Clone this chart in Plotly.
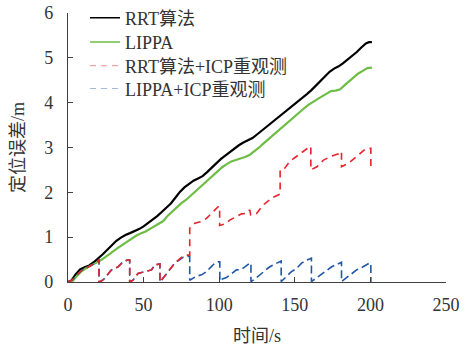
import plotly.graph_objects as go

# Time stamps (s) and localisation error (m) for the two planners without re-observation
rrt_t = [0, 2, 5, 8, 11, 14, 17, 20, 23, 26, 29, 32, 35, 38, 41, 44, 47, 50, 53, 56, 59,
         62, 65, 68, 71, 74, 77, 80, 83, 86, 89, 92, 95, 98, 101, 104, 107, 110, 113, 116,
         119, 122, 125, 128, 131, 134, 137, 140, 143, 146, 149, 152, 155, 158, 161, 164,
         167, 170, 173, 176, 179, 182, 185, 188, 191, 194, 197, 199, 201]
rrt_err = [0, 0.02, 0.17, 0.28, 0.33, 0.37, 0.44, 0.52, 0.62, 0.72, 0.83, 0.92, 0.99, 1.05,
           1.09, 1.13, 1.18, 1.24, 1.31, 1.38, 1.47, 1.56, 1.65, 1.75, 1.88, 2.01, 2.11, 2.19,
           2.26, 2.31, 2.36, 2.45, 2.55, 2.65, 2.74, 2.82, 2.90, 2.98, 3.05, 3.11, 3.16, 3.21,
           3.29, 3.37, 3.47, 3.55, 3.62, 3.69, 3.77, 3.85, 3.94, 4.03, 4.11, 4.19, 4.28, 4.38,
           4.48, 4.58, 4.69, 4.76, 4.81, 4.88, 4.96, 5.05, 5.13, 5.23, 5.32, 5.35, 5.35]

lippa_t = [0, 3, 6, 9, 12, 15, 18, 21, 24, 27, 30, 33, 36, 39, 42, 45, 48, 51, 54, 57, 60,
           63, 66, 69, 72, 75, 78, 81, 84, 87, 90, 93, 96, 99, 102, 105, 108, 111, 114, 117,
           120, 123, 126, 129, 132, 135, 138, 141, 144, 147, 150, 153, 156, 159, 162, 165,
           168, 171, 174, 177, 180, 183, 186, 189, 192, 195, 198, 201]
lippa_err = [0, 0.02, 0.14, 0.24, 0.31, 0.36, 0.41, 0.47, 0.54, 0.62, 0.69, 0.76, 0.83, 0.90,
             0.97, 1.03, 1.08, 1.12, 1.18, 1.24, 1.29, 1.36, 1.48, 1.58, 1.67, 1.76, 1.83,
             1.92, 2.03, 2.12, 2.20, 2.29, 2.39, 2.47, 2.56, 2.63, 2.69, 2.72, 2.75, 2.79,
             2.83, 2.90, 2.99, 3.08, 3.17, 3.25, 3.34, 3.43, 3.52, 3.61, 3.70, 3.79, 3.87,
             3.95, 4.02, 4.08, 4.14, 4.20, 4.26, 4.27, 4.30, 4.39, 4.48, 4.57, 4.65, 4.71,
             4.77, 4.78]

# With ICP re-observation (repeated time stamps mark the correction steps)
rrt_icp_t = [0, 3, 6, 9, 12, 15, 18, 20.5, 20.5, 22, 24.3, 26.5, 28.7, 31, 33.1, 36.4, 39.3,
             40.8, 40.8, 43, 46.3, 50.8, 55.2, 57.4, 59.6, 60.8, 60.8, 62.9, 66.2, 70.6, 73.5,
             76.1, 79.4, 80.5, 80.5, 83.9, 88.3, 91.6, 94.9, 99.3, 100.3, 100.3, 104, 107,
             110.3, 114.8, 118, 120.2, 120.8, 124.7, 129.2, 134.6, 139, 140.3, 140.3, 143.4,
             146.7, 151.1, 156.6, 159.9, 160.6, 160.6, 164.6, 169, 174.5, 178.9, 180.4, 180.9,
             180.9, 185.5, 191, 196.5, 199.7, 200.3, 200.3]
rrt_icp_err = [0, 0.05, 0.16, 0.26, 0.31, 0.36, 0.42, 0.50, 0.0, 0.02, 0.08, 0.18, 0.27, 0.30,
               0.34, 0.45, 0.49, 0.49, 0.0, 0.04, 0.19, 0.23, 0.27, 0.38, 0.40, 0.40, 0.0,
               0.08, 0.23, 0.42, 0.50, 0.58, 0.60, 0.60, 1.20, 1.31, 1.35, 1.42, 1.53, 1.68,
               1.68, 1.26, 1.30, 1.38, 1.44, 1.52, 1.53, 1.61, 1.50, 1.53, 1.72, 1.87, 1.94,
               1.96, 2.50, 2.54, 2.69, 2.80, 2.95, 3.02, 3.02, 2.50, 2.57, 2.72, 2.81, 2.86,
               2.91, 2.91, 2.57, 2.65, 2.80, 2.96, 2.98, 2.98, 2.57]

lippa_icp_t = [0, 3, 6, 9, 12, 15, 18, 20.5, 20.5, 22, 24.3, 26.5, 28.7, 31, 33.1, 36.4, 39.3,
               40.8, 40.8, 43, 46.3, 50.8, 55.2, 57.4, 59.6, 60.8, 60.8, 62.9, 66.2, 70.6,
               73.5, 76.1, 79.4, 80.5, 80.5, 85, 88.3, 91.6, 93.8, 97.1, 99.3, 100.4, 100.4,
               101.5, 104.8, 107, 111.4, 114.8, 119.1, 120.2, 121, 121, 122.5, 127, 130.2,
               133.5, 136.8, 140.1, 141, 141, 144.5, 147.8, 151.1, 154.5, 157.8, 160, 161, 161,
               162.3, 166.7, 170, 174.4, 177.7, 179.9, 180.9, 180.9, 182, 186.4, 190.9, 195.2,
               199.2, 200.3, 200.3]
lippa_icp_err = [0, 0.05, 0.16, 0.26, 0.31, 0.36, 0.42, 0.50, 0.0, 0.02, 0.08, 0.18, 0.27,
                 0.30, 0.34, 0.45, 0.49, 0.49, 0.0, 0.04, 0.19, 0.23, 0.27, 0.38, 0.40, 0.40,
                 0.0, 0.08, 0.23, 0.42, 0.49, 0.55, 0.57, 0.57, 0.04, 0.13, 0.16, 0.23, 0.31,
                 0.42, 0.45, 0.45, 0.02, 0.06, 0.10, 0.16, 0.27, 0.28, 0.40, 0.42, 0.42, 0.01,
                 0.04, 0.16, 0.25, 0.34, 0.40, 0.47, 0.47, 0.01, 0.12, 0.23, 0.30, 0.42, 0.49,
                 0.53, 0.53, 0.01, 0.04, 0.16, 0.23, 0.34, 0.39, 0.44, 0.44, 0.01, 0.04, 0.16,
                 0.27, 0.34, 0.42, 0.42, 0.0]

names = ["RRT算法", "LIPPA", "RRT算法+ICP重观测", "LIPPA+ICP重观测"]
x_ticks = [0, 50, 100, 150, 200, 250]
y_ticks = [0, 1, 2, 3, 4, 5, 6]

BLACK = "#000000"
GREEN = "#6dbd45"
RED = "#e8232b"
BLUE = "#2256a6"

FONT = "Liberation Serif, Times New Roman, Noto Sans CJK SC, serif"

fig = go.Figure()

# data curves (legend entries are added separately below)
fig.add_trace(go.Scatter(x=rrt_t, y=rrt_err, mode="lines", showlegend=False,
                         line=dict(color=BLACK, width=2.2)))
fig.add_trace(go.Scatter(x=lippa_t, y=lippa_err, mode="lines", showlegend=False,
                         line=dict(color=GREEN, width=2.2)))
fig.add_trace(go.Scatter(x=lippa_icp_t, y=lippa_icp_err, mode="lines", showlegend=False,
                         line=dict(color=BLUE, width=1.6, dash="8px,4px")))
fig.add_trace(go.Scatter(x=rrt_icp_t, y=rrt_icp_err, mode="lines", showlegend=False,
                         line=dict(color=RED, width=1.6, dash="7px,5px")))

# one single-entry legend per series, so the rows can be spaced freely
legend_styles = [
    dict(color=BLACK, width=1.5),
    dict(color=GREEN, width=1.5),
    dict(color="#f3a3a6", width=1.2, dash="6px,5px"),
    dict(color="#a5b8dd", width=1.2, dash="6px,5px"),
]
legend_ids = ["legend", "legend2", "legend3", "legend4"]
legend_rows_y = [1.050, 0.960, 0.872, 0.787]

for name, style, lid in zip(names, legend_styles, legend_ids):
    fig.add_trace(go.Scatter(x=[None], y=[None], mode="lines", name=name, line=style,
                             legend=lid))

legend_layout = {}
for lid, ly in zip(legend_ids, legend_rows_y):
    legend_layout[lid] = dict(x=0.045, y=ly, xanchor="left", yanchor="top",
                              bgcolor="rgba(0,0,0,0)", borderwidth=0,
                              font=dict(family=FONT, size=18, color="#333333"),
                              itemwidth=30)

axis_common = dict(
    showline=True, linecolor="#404040", linewidth=1.2,
    ticks="inside", ticklen=5, tickcolor="#404040", tickwidth=1,
    showgrid=False, zeroline=False, automargin=False,
    tickfont=dict(family=FONT, size=18, color="#333333"),
)

fig.update_xaxes(range=[0, 250], tickvals=x_ticks, ticklabelstandoff=6,
                 title=dict(text="时间/s", font=dict(family=FONT, size=18, color="#333333"),
                            standoff=19),
                 **axis_common)
fig.update_yaxes(range=[0, 6], tickvals=y_ticks, ticklabelstandoff=10,
                 title=dict(text="定位误差/m", font=dict(family=FONT, size=18, color="#333333"),
                            standoff=14),
                 **axis_common)

fig.update_layout(
    width=469, height=346,
    margin=dict(l=68, r=23, t=13, b=64, autoexpand=False),
    paper_bgcolor="white", plot_bgcolor="white",
    font=dict(family=FONT, size=18, color="#333333"),
    **legend_layout,
)

fig.write_html("out.html")
